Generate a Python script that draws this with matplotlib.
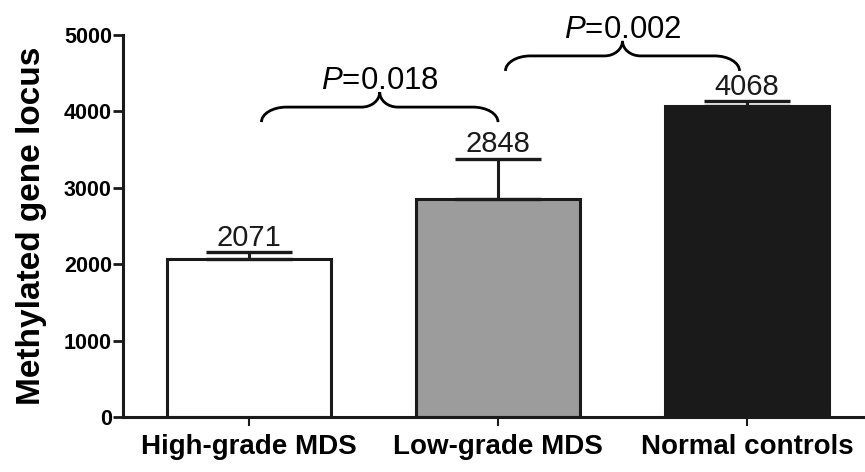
import matplotlib
matplotlib.use('Agg')
import matplotlib.pyplot as plt
from matplotlib.path import Path
from matplotlib.patches import PathPatch

groups = ['High-grade MDS', 'Low-grade MDS', 'Normal controls']
means = [2071, 2848, 4068]
sems = [90, 533, 70]
colors = ['#ffffff', '#9b9c9b', '#1a1a1a']

# brace comparisons: x start, x end, tip level, p value
cmp_x0 = [0.05, 1.03]
cmp_x1 = [1.00, 1.97]
cmp_y = [3860, 4530]
cmp_p = ['0.018', '0.002']

plt.rcParams['font.family'] = ['Liberation Sans', 'DejaVu Sans']
plt.rcParams['mathtext.fontset'] = 'custom'
plt.rcParams['mathtext.it'] = 'Liberation Sans:italic'
plt.rcParams['mathtext.rm'] = 'Liberation Sans'

fig = plt.figure(figsize=(8.65, 4.72), dpi=100)
ax = fig.add_axes([123/865, 55/472, 742/865, 382/472])

x = list(range(len(groups)))
ax.bar(x, means, width=0.66, color=colors, edgecolor='#1a1a1a', linewidth=2.2, zorder=2)
ax.errorbar(x, means, yerr=[[0]*len(sems), sems], fmt='none', ecolor='#1a1a1a',
            elinewidth=2.2, capsize=31, capthick=2.4, zorder=3)

for i in x:
    ax.annotate(str(means[i]), (i, means[i] + sems[i]), xytext=(0, 4.5),
                textcoords='offset points', ha='center', va='baseline',
                fontsize=21, color='#1a1a1a')

ax.set_xlim(-0.506, 2.474)
ax.set_ylim(0, 5000)
ax.set_yticks([0, 1000, 2000, 3000, 4000, 5000])
ax.set_xticks(x)
ax.set_xticklabels(groups, fontweight='bold', fontsize=20)
for lab in ax.get_yticklabels():
    lab.set_fontweight('bold')
    lab.set_fontsize(15.5)
ax.tick_params(axis='y', direction='out', length=7, width=2, pad=1, colors='#1a1a1a')
ax.tick_params(axis='x', direction='out', length=6.5, width=1.5, pad=6, colors='#1a1a1a')
for lab in ax.get_xticklabels() + ax.get_yticklabels():
    lab.set_color('black')
ax.set_ylabel('Methylated gene locus', fontsize=24, fontweight='bold', labelpad=12)

for s in ['top', 'right']:
    ax.spines[s].set_visible(False)
for s in ['left', 'bottom']:
    ax.spines[s].set_linewidth(2.2)
    ax.spines[s].set_color('#1a1a1a')

# curly braces, shaped in pixels then mapped to data coords
fig.canvas.draw()
inv = ax.transData.inverted()
rx, ry, mx, my = 25, 15, 18, 15
for x0, x1, y0, p in zip(cmp_x0, cmp_x1, cmp_y, cmp_p):
    (px0, py0) = ax.transData.transform((x0, y0))
    (px1, _) = ax.transData.transform((x1, y0))
    pc = (px0 + px1) / 2
    k = 0.552
    pts = [(px0, py0),
           (px0, py0 + k*ry), (px0 + rx - k*rx, py0 + ry), (px0 + rx, py0 + ry),
           (pc - mx, py0 + ry),
           (pc - mx + k*mx, py0 + ry), (pc, py0 + ry + my - k*my), (pc, py0 + ry + my),
           (pc, py0 + ry + my - k*my), (pc + mx - k*mx, py0 + ry), (pc + mx, py0 + ry),
           (px1 - rx, py0 + ry),
           (px1 - rx + k*rx, py0 + ry), (px1, py0 + k*ry), (px1, py0)]
    codes = [Path.MOVETO] + [Path.CURVE4]*3 + [Path.LINETO] + [Path.CURVE4]*6 + \
            [Path.LINETO] + [Path.CURVE4]*3
    dpts = inv.transform(pts)
    ax.add_patch(PathPatch(Path(dpts, codes), fill=False, lw=2, color='black',
                           clip_on=False, capstyle='butt'))
    top = inv.transform((pc, py0 + ry + my + 3))
    ax.text(top[0], top[1], '$P$=' + p, ha='center', va='baseline',
            fontsize=22.5, color='black')

fig.savefig('out.png', dpi=100)
